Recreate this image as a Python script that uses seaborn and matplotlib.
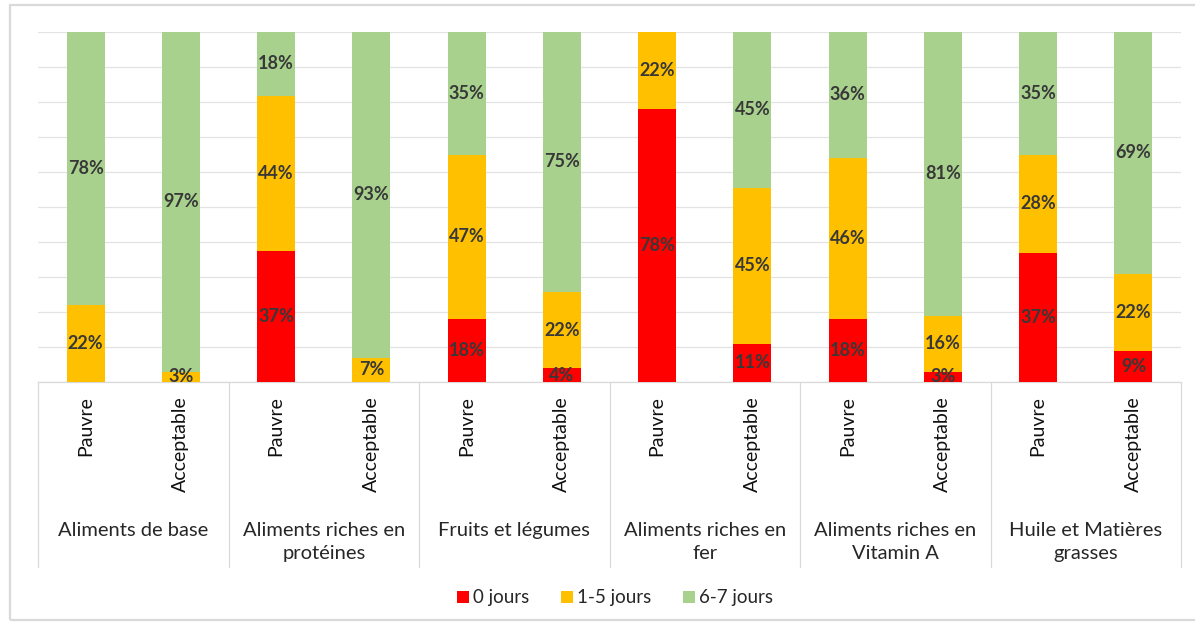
import numpy as np
import pandas as pd
import matplotlib
matplotlib.use("Agg")
import matplotlib.pyplot as plt
import matplotlib.transforms as mtransforms
from matplotlib.lines import Line2D
from matplotlib.patches import Rectangle, Patch
import seaborn as sns

# --- data -------------------------------------------------------------
groups = [
    "Aliments de base",
    "Aliments riches en\nprotéines",
    "Fruits et légumes",
    "Aliments riches en\nfer",
    "Aliments riches en\nVitamin A",
    "Huile et Matières\ngrasses",
]
statuses = ["Pauvre", "Acceptable"]
series = ["0 jours", "1-5 jours", "6-7 jours"]

# one value per bar, ordered group by group (Pauvre, Acceptable)
jours_0 = [0, 0, 37, 0, 18, 4, 78, 11, 18, 3, 37, 9]
jours_1_5 = [22, 3, 44, 7, 47, 22, 22, 45, 46, 16, 28, 22]
jours_6_7 = [78, 97, 18, 93, 35, 75, 0, 45, 36, 81, 35, 69]

colors = {"0 jours": "#FF0000", "1-5 jours": "#FFC000", "6-7 jours": "#A9D18E"}

# --- frame ------------------------------------------------------------
sns.set_theme(style="white")
plt.rcParams["font.family"] = ["Lato", "DejaVu Sans"]

fig = plt.figure(figsize=(11.95, 6.25), dpi=100)
ax = fig.add_axes([38 / 1195, 1 - 382 / 625, (1181 - 38) / 1195, 350 / 625])

bar_ids = [f"{g}|{s}" for g in groups for s in statuses]
df = pd.DataFrame({
    "bar": bar_ids,
    "0 jours": jours_0,
    "1-5 jours": jours_1_5,
    "6-7 jours": jours_6_7,
})
# 100 % stacked: each bar is scaled by its own total
total = df[series].sum(axis=1)
share = df[series].div(total, axis=0) * 100
df["cum0"] = share["0 jours"]
df["cum1"] = df["cum0"] + share["1-5 jours"]
df["cum2"] = df["cum1"] + share["6-7 jours"]

# stacked bars drawn as overlapping cumulative totals (tallest first)
for col, name in [("cum2", "6-7 jours"), ("cum1", "1-5 jours"), ("cum0", "0 jours")]:
    sns.barplot(data=df, x="bar", y=col, order=bar_ids, color=colors[name],
                width=0.4, saturation=1, ax=ax, linewidth=0, zorder=3)

# percentage labels centred inside each segment
for i, row in df.iterrows():
    base = 0
    for name in series:
        v = row[name]
        h = share.loc[i, name]
        if v > 0:
            ax.text(i, base + h / 2, f"{v}%", ha="center", va="center",
                    fontsize=13, fontweight="bold", color="#383838", zorder=5)
        base += h

ax.set_xlim(-0.5, len(bar_ids) - 0.5)
ax.set_ylim(0, 100)
ax.set_yticks(np.arange(0, 101, 10))
ax.set_yticklabels([])
ax.tick_params(axis="y", length=0)
ax.grid(axis="y", color="#e3e3e3", linewidth=0.9, zorder=0)
for s in ["top", "right", "left"]:
    ax.spines[s].set_visible(False)
ax.spines["bottom"].set_color("#d9d9d9")
ax.spines["bottom"].set_linewidth(0.9)

ax.set_xticks(range(len(bar_ids)))
ax.set_xticklabels([b.split("|")[1] for b in bar_ids], rotation=90,
                   fontsize=14, color="#111111")
ax.tick_params(axis="x", length=0, pad=10)
ax.set_xlabel("")
ax.set_ylabel("")

# group labels and separators below the axis
blend = mtransforms.blended_transform_factory(ax.transData, fig.transFigure)
for k, g in enumerate(groups):
    ax.text(2 * k + 0.5, 1 - 522 / 625, g, transform=blend, ha="center", va="top",
            fontsize=14.5, color="#262626", linespacing=1.45)
for k in range(len(groups) + 1):
    x = 2 * k - 0.5
    fig.add_artist(Line2D([x, x], [1 - 382 / 625, 1 - 567 / 625], transform=blend,
                          color="#d9d9d9", linewidth=0.9))

# legend
handles = [Patch(facecolor=colors[s], edgecolor="none", label=s) for s in series]
fig.legend(handles=handles, loc="center", bbox_to_anchor=(615 / 1195, 1 - 598 / 625),
           ncol=3, frameon=False, fontsize=13.5, handlelength=0.65, handleheight=0.65,
           handletextpad=0.2, columnspacing=1.7, labelcolor="#262626")

# chart border
fig.add_artist(Rectangle((10 / 1195, 1 - 620 / 625), 1.02 - 10 / 1195, (620 - 5) / 625,
                         transform=fig.transFigure, fill=False,
                         edgecolor="#d9d9d9", linewidth=1.6))

fig.savefig("out.png", dpi=100, facecolor="white")
